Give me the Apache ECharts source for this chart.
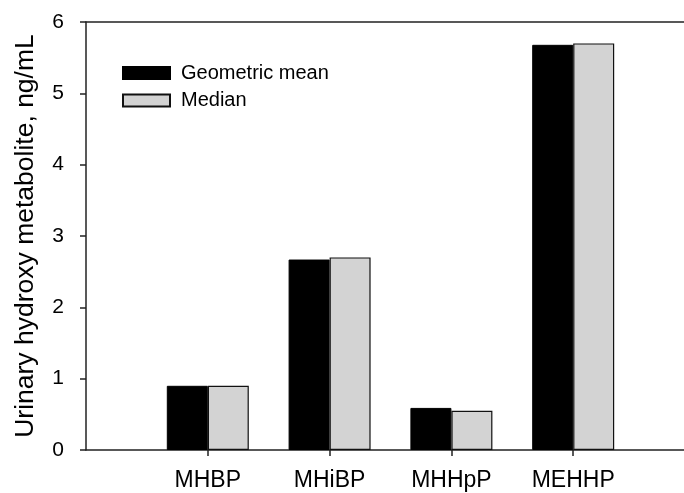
<!DOCTYPE html>
<html>
<head>
<meta charset="utf-8">
<script src="https://cdn.jsdelivr.net/npm/echarts@6/dist/echarts.min.js"></script>
<style>html,body{margin:0;padding:0;background:#fff;overflow:hidden}#c{width:684px;height:493px}</style>
</head>
<body>
<div id="c"></div>
<script>
var categories = ['MHBP', 'MHiBP', 'MHHpP', 'MEHHP'];
var geometricMean = [0.90, 2.67, 0.59, 5.68];
var median = [0.90, 2.70, 0.55, 5.70];
var yTicks = [0, 1, 2, 3, 4, 5, 6];

var axisCats = [''].concat(categories).concat(['']);
function pad(arr) { return ['-'].concat(arr).concat(['-']); }

var font = 'Liberation Sans, Arial, sans-serif';
var lineCol = '#222';
var chart = echarts.init(document.getElementById('c'));
chart.setOption({
  animation: false,
  grid: { left: 86, width: 609, top: 22, bottom: 43, containLabel: false, outerBoundsMode: 'none' },
  legend: {
    orient: 'vertical', left: 122, top: 63, padding: 0,
    itemWidth: 47, itemHeight: 12, itemGap: 7.5,
    icon: 'rect',
    textStyle: { fontFamily: font, fontSize: 20, color: '#000', lineHeight: 20, padding: [0, 0, 0, 6] },
    data: ['Geometric mean', 'Median']
  },
  xAxis: [{
    type: 'category', data: axisCats, boundaryGap: false,
    axisLine: { lineStyle: { color: lineCol, width: 1.5 } },
    axisTick: { show: true, length: 6, inside: false, lineStyle: { color: lineCol, width: 1.5 },
      interval: function (i, v) { return v !== ''; } },
    axisLabel: { fontFamily: font, fontSize: 23, color: '#000', margin: 19,
      interval: function (i, v) { return v !== ''; } },
    splitLine: { show: false }
  }, {
    type: 'category', data: axisCats, boundaryGap: false, position: 'top',
    axisLine: { lineStyle: { color: lineCol, width: 1.5 } },
    axisTick: { show: false }, axisLabel: { show: false }, splitLine: { show: false }
  }],
  yAxis: {
    type: 'value', min: yTicks[0], max: yTicks[yTicks.length - 1], interval: 1,
    name: 'Urinary hydroxy metabolite, ng/mL', nameLocation: 'middle', nameGap: 47,
    nameTextStyle: { fontFamily: font, fontSize: 26.5, color: '#000' },
    axisLine: { show: true, lineStyle: { color: lineCol, width: 1.5 } },
    axisTick: { show: true, length: 6, inside: false, lineStyle: { color: lineCol, width: 1.5 } },
    axisLabel: { fontFamily: font, fontSize: 21, color: '#000', margin: 22 },
    splitLine: { show: false }
  },
  series: [{
    name: 'Geometric mean', type: 'bar', data: pad(geometricMean),
    barWidth: 41, barGap: '0%',
    itemStyle: { color: '#000', borderColor: '#000', borderWidth: 1 }
  }, {
    name: 'Median', type: 'bar', data: pad(median),
    barWidth: 41, barGap: '0%',
    itemStyle: { color: '#d3d3d3', borderColor: '#111', borderWidth: 1.2 }
  }]
});
</script>
</body>
</html>
